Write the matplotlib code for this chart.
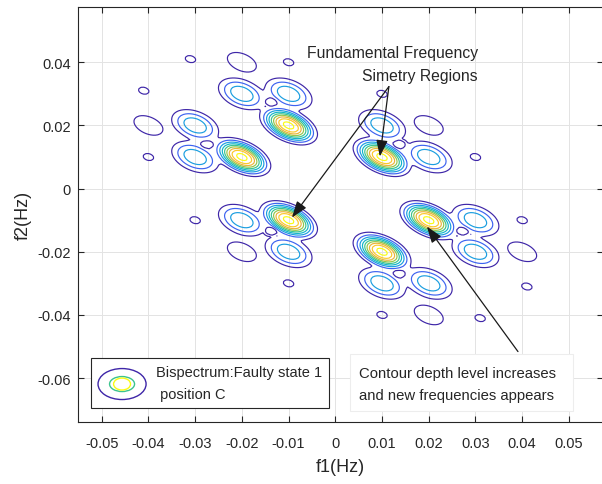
import numpy as np
import matplotlib
matplotlib.use("Agg")
import matplotlib.pyplot as plt
from matplotlib.patches import Ellipse, Rectangle
from matplotlib.lines import Line2D
from matplotlib.legend_handler import HandlerBase

plt.rcParams['font.family'] = ['Liberation Sans', 'DejaVu Sans']

# peaks (f1, f2 in Hz), relative height, widths along the two diagonals
strong_f1 = [-0.02, -0.01, 0.01, 0.02, 0.01, -0.01]
strong_f2 = [0.01, 0.02, 0.01, -0.01, -0.02, -0.01]
medium_f1 = [-0.03, -0.03, -0.02, -0.01, 0.01, 0.02, 0.03, 0.03, 0.01, 0.02, -0.02, -0.01]
medium_f2 = [0.02, 0.01, 0.03, 0.03, 0.02, 0.01, -0.01, -0.02, -0.03, -0.03, -0.01, -0.02]
weak_f1 = [-0.04, -0.02, 0.02, 0.04, 0.02, -0.02]
weak_f2 = [0.02, 0.04, 0.02, -0.02, -0.04, -0.02]
small_f1 = [-0.04, -0.01, -0.041, -0.031, 0.01, 0.03, 0.01, 0.04, 0.041, 0.031, -0.03, -0.01]
small_f2 = [0.01, 0.04, 0.031, 0.041, 0.03, 0.01, -0.04, -0.01, -0.031, -0.041, -0.01, -0.03]
ring_f1 = [-0.0275, -0.0136, 0.0136, 0.0273, 0.0136, -0.0136]
ring_f2 = [0.0139, 0.0275, 0.0139, -0.0133, -0.027, -0.0133]

strong_amp, strong_sl, strong_ss = 0.93, 0.0041, 0.0025
medium_amp, medium_sl, medium_ss = 0.37, 0.0040, 0.0027
weak_amp, weak_sl, weak_ss = 0.15, 0.0040, 0.0026
small_amp, small_sl, small_ss = 0.13, 0.0016, 0.0013
ring_rim, ring_rim_s, ring_hole_s = 0.14, 0.0026, 0.0008
peak_shape = 1.25   # flatter top than a plain gaussian

levels = [0.1, 0.2, 0.3, 0.4, 0.5, 0.6, 0.7, 0.8, 0.9]
parula = ['#3e26a8', '#3d63f0', '#1b9ee0', '#12b6c8', '#3cc48e', '#94c64a',
          '#eab43a', '#fcc92b', '#f9fb15']

f = np.linspace(-0.065, 0.065, 261)
F1, F2 = np.meshgrid(f, f)
Z2 = np.zeros_like(F1)


def bump(x0, y0, amp, sl, ss, k=peak_shape):
    u = ((F1 - x0) - (F2 - y0)) / np.sqrt(2)
    v = ((F1 - x0) + (F2 - y0)) / np.sqrt(2)
    return amp * np.exp(-0.5 * ((u / sl) ** 2 + (v / ss) ** 2) ** k)


for xs, ys, amp, sl, ss in [(strong_f1, strong_f2, strong_amp, strong_sl, strong_ss),
                            (medium_f1, medium_f2, medium_amp, medium_sl, medium_ss),
                            (weak_f1, weak_f2, weak_amp, weak_sl, weak_ss),
                            (small_f1, small_f2, small_amp, small_sl, small_ss)]:
    for x0, y0 in zip(xs, ys):
        Z2 = Z2 + bump(x0, y0, amp, sl, ss) ** 2
Z = np.sqrt(Z2)

# small closed rings where the lobes join: fill the junction, then dig a small hole in it
for x0, y0 in zip(ring_f1, ring_f2):
    Z = np.maximum(Z, bump(x0, y0, ring_rim, ring_rim_s, ring_rim_s, 1.0))
    i = np.argmin(np.abs(f - y0))
    j = np.argmin(np.abs(f - x0))
    Z = Z - (Z[i, j] - 0.05) * np.exp(-0.5 * ((F1 - x0) ** 2 + (F2 - y0) ** 2) / ring_hole_s ** 2)

fig = plt.figure(figsize=(6.02, 4.85), dpi=100)
ax = fig.add_axes([77.7 / 602, (485 - 422.7) / 485, (603 - 77.7) / 602, (422.7 - 8.3) / 485])

ax.contour(F1, F2, Z, levels=levels, colors=parula, linewidths=0.85)

ax.set_xlim(-0.05514, 0.0573)
ax.set_ylim(-0.0738, 0.0574)
ax.set_xticks([-0.05, -0.04, -0.03, -0.02, -0.01, 0, 0.01, 0.02, 0.03, 0.04, 0.05])
ax.set_xticklabels(['-0.05', '-0.04', '-0.03', '-0.02', '-0.01', '0', '0.01', '0.02',
                    '0.03', '0.04', '0.05'])
ax.set_yticks([-0.06, -0.04, -0.02, 0, 0.02, 0.04])
ax.set_yticklabels(['-0.06', '-0.04', '-0.02', '0', '0.02', '0.04'])
ax.tick_params(direction='in', length=4, width=0.8, top=True, right=True,
               labelsize=10.5, colors='0.15')
ax.tick_params(axis='x', pad=10)
ax.tick_params(axis='y', pad=5)
ax.grid(True, color='0.89', linewidth=0.7)
ax.set_axisbelow(True)
for s in ax.spines.values():
    s.set_color('0.15')
    s.set_linewidth(0.8)

ax.set_xlabel('f1(Hz)', fontsize=13, color='0.15', labelpad=6)
ax.set_ylabel('f2(Hz)', fontsize=13, color='0.15', labelpad=4)

# arrows and notes
arrow = dict(arrowstyle='-|>,head_length=1.0,head_width=0.35', color='0.1', lw=0.9,
             shrinkA=0, shrinkB=0, mutation_scale=10)
ax.annotate('', xy=(0.00954, 0.01014), xytext=(0.01147, 0.0323), arrowprops=arrow)
ax.annotate('', xy=(-0.00929, -0.00919), xytext=(0.01147, 0.0323), arrowprops=arrow)
ax.text(0.0305, 0.0395, 'Fundamental Frequency\nSimetry Regions', ha='right', va='center',
        multialignment='right', fontsize=11.3, color='0.15', linespacing=1.72)
ax.add_patch(Rectangle((0.00312, -0.0703), 0.04773, 0.0180, fc='white', ec='0.93',
                       lw=0.8, zorder=3))
ax.text(0.00504, -0.0619, 'Contour depth level increases\nand new frequencies appears',
        ha='left', va='center', fontsize=10.7, color='0.15', linespacing=1.75, zorder=4)
ax.annotate('', xy=(0.0196, -0.0120), xytext=(0.0391, -0.0516), arrowprops=arrow)


class HandlerContour(HandlerBase):
    # sizes in points: purple, teal and yellow rings of the contour legend icon
    def create_artists(self, legend, orig_handle, xdescent, ydescent, width, height,
                       fontsize, trans):
        cx = width / 2 - xdescent
        cy = height / 2 - ydescent
        out = []
        for w, h, col in [(34.6, 22.3, parula[0]), (18.0, 10.8, parula[4]),
                          (12.2, 8.6, parula[8])]:
            out.append(Ellipse((cx, cy), w, h, fill=False, edgecolor=col, lw=1.0,
                               transform=trans))
        return out


proxy = Line2D([], [])
leg = ax.legend([proxy], ['Bispectrum:Faulty state 1\n position C'],
                handler_map={Line2D: HandlerContour()}, loc='lower left',
                bbox_to_anchor=(0.0253, 0.033), borderaxespad=0, fontsize=10.5,
                handlelength=3.3, handleheight=2.0, handletextpad=0.7,
                borderpad=0.48, fancybox=False, framealpha=1, edgecolor='0.15')
leg.get_frame().set_linewidth(0.8)
for t in leg.get_texts():
    t.set_color('0.15')
    t.set_linespacing(1.7)

fig.savefig('out.png', dpi=100)
